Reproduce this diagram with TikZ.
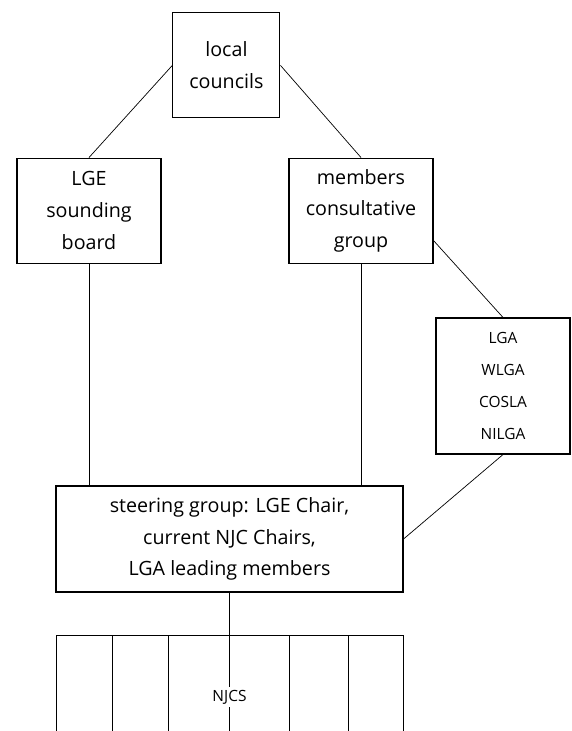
\documentclass[tikz,border=0pt]{standalone}
\usepackage{fontspec}
\setmainfont{Open Sans}
\tikzset{
    box/.style={draw, line width=0.8pt, align=center, inner sep=0pt, font=\fontsize{14}{22.5}\selectfont},
    smallbox/.style={box, font=\fontsize{11}{22.8}\selectfont},
    link/.style={line width=0.5pt}
}

\begin{document}
\begin{tikzpicture}
    \useasboundingbox (0,0) rectangle (14.3,18.275);

    \node [box, minimum width=2.675cm, minimum height=2.625cm] (lc) at (5.66,16.64) {local\\councils};
    \node [box, minimum width=3.6cm, minimum height=2.625cm] (lge) at (2.225,13.01) {LGE\\sounding\\board};
    \node [box, minimum width=3.6cm, minimum height=2.625cm] (mcg) at (9.025,13.01) {members\\consultative\\group};
    \node [smallbox, minimum width=3.35cm, minimum height=3.4cm] (assoc) at (12.575,8.625) {LGA\\WLGA\\COSLA\\NILGA};
    \node [box, minimum width=8.675cm, minimum height=2.65cm] (steer) at (5.7375,4.8) {steering group: LGE Chair,\\current NJC Chairs,\\LGA leading members};

    \draw [link] (lc.west) -- (lge.north);
    \draw [link] (lc.east) -- (mcg.north);
    \draw [link] (lge.south) -- (lge.south |- steer.north);
    \draw [link] (mcg.south) -- (mcg.south |- steer.north);
    \draw [link] ([yshift=-0.75cm]mcg.east) -- (assoc.north);
    \draw [link] (assoc.south) -- (steer.east);

    \node [fill=white, inner sep=2pt, font=\fontsize{11}{13}\selectfont] (njcs) at (5.7375,0.85) {NJCS};
    \coordinate (foot) at (5.7375,0);
    \draw [link] (steer.south) -- (njcs);
    \draw [link] (njcs) -- (foot);
    \draw [link] (1.4,0) -- (1.4,2.4) -- (10.075,2.4) -- (10.075,0);
    \foreach \x in {2.8,4.2,7.225,8.7}
        \draw [link] (\x,0) -- (\x,2.4);
\end{tikzpicture}
\end{document}
